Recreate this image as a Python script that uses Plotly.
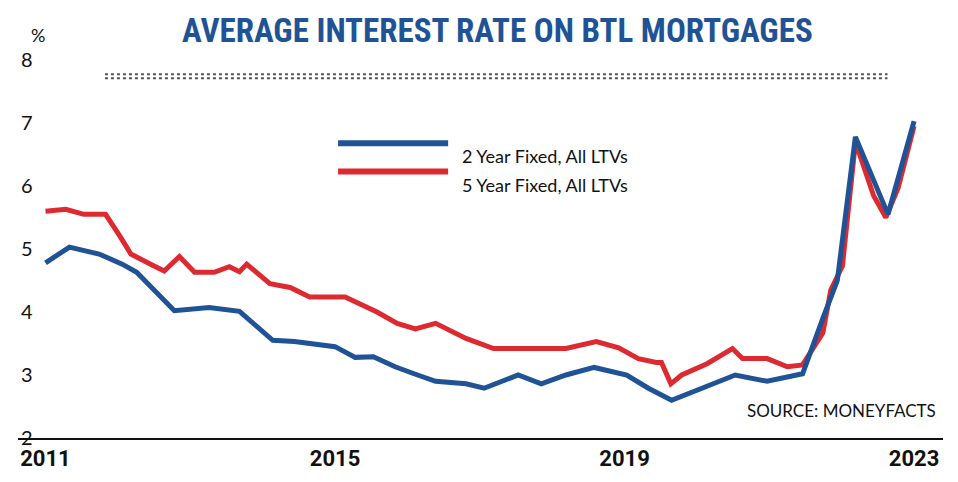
import plotly.graph_objects as go

# 2 year fixed, all LTVs (decimal year, %)
two_year_x = [2011.0, 2011.33, 2011.74, 2012.06, 2012.26, 2012.78, 2013.26, 2013.68, 2014.14, 2014.44,
              2015.0, 2015.28, 2015.53, 2015.83, 2016.14, 2016.39, 2016.81, 2017.06, 2017.53, 2017.85,
              2018.19, 2018.58, 2019.03, 2019.33, 2019.65, 2020.07, 2020.53, 2020.97, 2021.46, 2021.74,
              2021.94, 2022.19, 2022.64, 2023.0]
two_year_y = [4.78, 5.03, 4.92, 4.76, 4.63, 4.02, 4.07, 4.01, 3.55, 3.53,
              3.45, 3.28, 3.29, 3.13, 3.0, 2.9, 2.86, 2.79, 3.0, 2.86,
              3.0, 3.12, 3.0, 2.79, 2.6, 2.79, 3.0, 2.9, 3.02, 3.9,
              4.5, 6.78, 5.55, 7.03]

# 5 year fixed, all LTVs
five_year_x = [2011.0, 2011.28, 2011.53, 2011.83, 2012.03, 2012.18, 2012.5, 2012.64, 2012.85, 2013.06,
               2013.33, 2013.54, 2013.68, 2013.78, 2014.1, 2014.38, 2014.65, 2015.14, 2015.58, 2015.86,
               2016.11, 2016.39, 2016.81, 2017.19, 2018.19, 2018.61, 2018.92, 2019.19, 2019.44, 2019.51,
               2019.64, 2019.79, 2020.14, 2020.49, 2020.63, 2020.97, 2021.25, 2021.46, 2021.74, 2021.85,
               2022.01, 2022.19, 2022.44, 2022.61, 2022.78, 2023.0]
five_year_y = [5.6, 5.63, 5.55, 5.55, 5.2, 4.92, 4.73, 4.65, 4.88, 4.63,
               4.63, 4.72, 4.64, 4.76, 4.45, 4.39, 4.24, 4.24, 4.0, 3.82,
               3.73, 3.82, 3.58, 3.42, 3.42, 3.53, 3.43, 3.26, 3.2, 3.2,
               2.86, 3.0, 3.18, 3.42, 3.26, 3.26, 3.13, 3.16, 3.67, 4.35,
               4.73, 6.7, 5.85, 5.5, 5.97, 6.95]

x_ticks = [2011, 2015, 2019, 2023]
y_ticks = [2, 3, 4, 5, 6, 7, 8]

BLUE = "#1f5395"
RED = "#dd2a30"

fig = go.Figure()
fig.add_trace(go.Scatter(x=five_year_x, y=five_year_y, mode="lines",
                         line=dict(color=RED, width=5), name="5 Year Fixed, All LTVs"))
fig.add_trace(go.Scatter(x=two_year_x, y=two_year_y, mode="lines",
                         line=dict(color=BLUE, width=5), name="2 Year Fixed, All LTVs"))

fig.update_layout(
    width=958, height=482,
    margin=dict(l=10, r=23, t=52, b=52),
    paper_bgcolor="white", plot_bgcolor="white",
    showlegend=False,
    font=dict(family="Lato, Roboto, sans-serif", color="#111"),
    xaxis=dict(range=[2010.62, 2023.4], tickvals=x_ticks, ticktext=[str(t) for t in x_ticks],
               showgrid=False, zeroline=False, showline=True, linecolor="#111", linewidth=1.5,
               tickfont=dict(size=22, family="Roboto, sans-serif", weight="bold", color="#111")),
    yaxis=dict(range=[2, 8], tickvals=y_ticks, showgrid=False, zeroline=False,
               ticklabelposition="inside", ticklabeloverflow="allow",
               tickfont=dict(size=20, color="#111")),
)

fig.add_annotation(text="AVERAGE INTEREST RATE ON BTL MORTGAGES", x=0.518, y=1.135,
                   xref="paper", yref="paper", showarrow=False,
                   font=dict(size=33, family="Liberation Sans Narrow, Roboto Condensed, Roboto, sans-serif",
                             weight="bold", color=BLUE))
for yy in (0.952, 0.962):
    fig.add_shape(type="line", xref="paper", yref="paper", x0=0.094, x1=0.94, y0=yy, y1=yy,
                  line=dict(color="#555", width=2, dash="dot"))
fig.add_annotation(text="%", x=0.012, y=1.1, xref="paper", yref="paper", showarrow=False,
                   font=dict(size=18))
fig.add_annotation(text="SOURCE: MONEYFACTS", x=0.995, y=0.04, xref="paper", yref="paper",
                   xanchor="right", showarrow=False, font=dict(size=17))

# legend drawn by hand
for yy, col, lab in [(0.78, BLUE, "2 Year Fixed, All LTVs"), (0.705, RED, "5 Year Fixed, All LTVs")]:
    fig.add_shape(type="line", xref="paper", yref="paper", x0=0.346, x1=0.465, y0=yy, y1=yy,
                  line=dict(color=col, width=6))
    fig.add_annotation(text=lab, x=0.478, y=yy, xref="paper", yref="paper", xanchor="left",
                       showarrow=False, font=dict(size=18))

fig.write_html("out.html")
